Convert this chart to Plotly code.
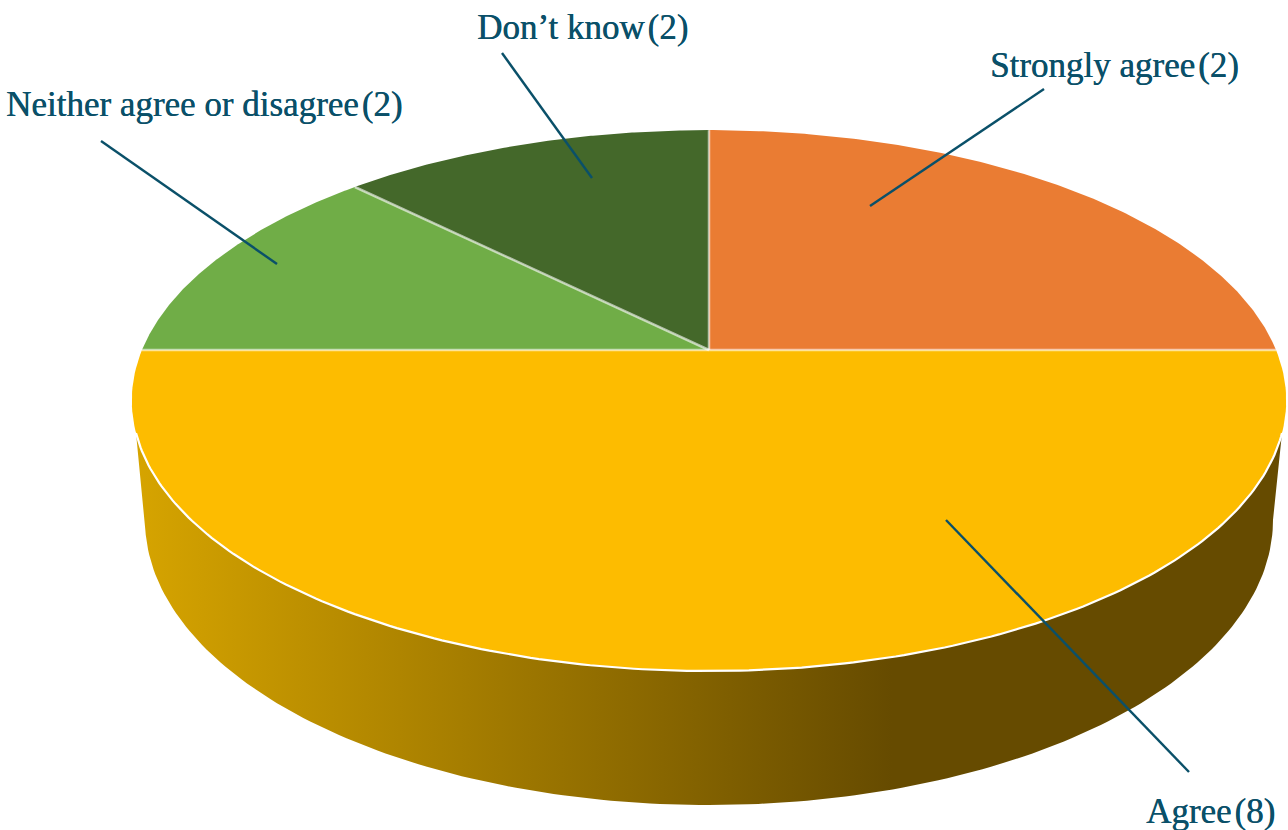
import numpy as np
import plotly.graph_objects as go

# Data
categories = ["Strongly agree", "Agree", "Neither agree or disagree", "Don't know"]
label_counts = [2, 8, 2, 2]          # the numbers printed in the labels
slice_shares = [4, 8, 2, 2]          # the drawn slice sizes (quarter, half, eighth, eighth)
colors = ["#EA7C33", "#FDBC00", "#70AD47", "#44682A"]

# Geometry of the perspective disc (pixels)
CX, CY = 709, 350
A, B, K = 567, 261, 0.187
BOT_CY, BOT_RX, BOT_RY = 520, 564, 285
EDGE_COL = "rgba(255,255,255,0.6)"
TEXT_COL = "#0A5069"
FONT = "Liberation Serif"
FSIZE = 35


def rim(theta_deg):
    t = np.radians(theta_deg)
    d = 1 + K * np.sin(t)
    return CX + A * np.cos(t) / d, CY - B * np.sin(t) / d


fig = go.Figure()

# Side wall
px0, py0 = rim(197.5)
px1, py1 = rim(342.5)
tb = np.radians(np.linspace(180, 360, 181))
sx = np.concatenate([[px0], CX + BOT_RX * np.cos(tb), [px1]])
sy = np.concatenate([[py0], BOT_CY - BOT_RY * np.sin(tb), [py1]])
fig.add_trace(go.Scatter(
    x=sx, y=sy, mode="lines", fill="toself", line=dict(width=0), hoverinfo="skip",
    fillgradient=dict(type="horizontal", colorscale=[
        [0, "#D6A400"], [0.66, "#664B00"], [1, "#664B00"]]),
))

# Top slices, clockwise from 12 o'clock
total = sum(slice_shares)
start = 90.0
boundaries = []
for name, share, col in zip(categories, slice_shares, colors):
    end = start - 360.0 * share / total
    th = np.linspace(start, end, 181)
    x, y = rim(th)
    fig.add_trace(go.Scatter(
        x=np.concatenate([[CX], x, [CX]]), y=np.concatenate([[CY], y, [CY]]),
        mode="lines", fill="toself", fillcolor=col, line=dict(width=0),
        name=name, hoverinfo="name",
    ))
    boundaries.append(start)
    start = end

# Slice separators
for b in boundaries:
    x, y = rim(b)
    fig.add_trace(go.Scatter(x=[CX, float(x)], y=[CY, float(y)], mode="lines",
                             line=dict(color=EDGE_COL, width=2.5), hoverinfo="skip"))

# White rim along the front edge
x, y = rim(np.linspace(197.5, 342.5, 200))
fig.add_trace(go.Scatter(x=x, y=y, mode="lines", line=dict(color="#FFFFFF", width=2.2),
                         hoverinfo="skip"))

# Leader lines and labels
leaders = [((1044, 89), (870, 206)), ((946, 520), (1189, 772)),
           ((101, 141), (277, 264)), ((502, 53), (592, 178))]
label_pos = [(1114, 65), (1210, 811), (204, 104), (582, 27)]
for (p, q), (lx, ly), name, n in zip(leaders, label_pos, categories, label_counts):
    fig.add_shape(type="line", x0=p[0], y0=p[1], x1=q[0], y1=q[1], xref="x", yref="y",
                  line=dict(color="#0A5069", width=2.4))
    fig.add_annotation(x=lx, y=ly, xref="x", yref="y", showarrow=False,
                       text=f"{name.replace(chr(39), chr(8217))}\u200a({n})",
                       font=dict(family=FONT, size=FSIZE, color=TEXT_COL,
                                 shadow=f"0.4px 0 0 {TEXT_COL}"))

fig.update_layout(
    width=1288, height=830, margin=dict(l=0, r=0, t=0, b=0), showlegend=False,
    paper_bgcolor="#FFFFFF", plot_bgcolor="#FFFFFF",
    xaxis=dict(range=[0, 1288], visible=False, fixedrange=True),
    yaxis=dict(range=[830, 0], visible=False, fixedrange=True),
)
fig.write_html("out.html", config=dict(displayModeBar=False),
               post_script="document.body.style.margin='0';document.body.style.overflow='hidden';")
